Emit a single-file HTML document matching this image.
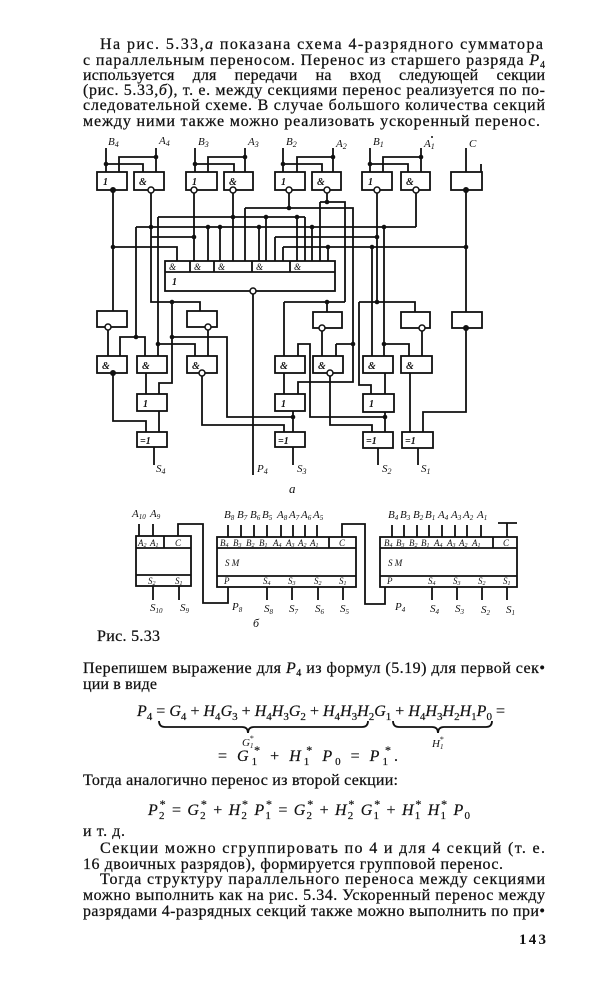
<!DOCTYPE html>
<html><head><meta charset="utf-8"><style>
html,body{margin:0;padding:0;background:#fff;}
svg{display:block;}
text{font-family:"Liberation Serif",serif;fill:#111;}
.t{font-size:16px;stroke:#111;stroke-width:0.25;}
.w{stroke:#111;stroke-width:1.8;fill:none;}
.bx{fill:#fff;stroke:#111;stroke-width:1.8;}
.g{font-size:10px;font-style:italic;font-weight:bold;}
.lb{font-size:11px;font-style:italic;}
.il{font-size:9px;font-style:italic;}
.i{font-style:italic;}
.f{stroke:#111;stroke-width:0.2;}
</style></head><body>
<svg width="614" height="1000" viewBox="0 0 614 1000" xmlns="http://www.w3.org/2000/svg">
<rect width="614" height="1000" fill="#fff"/>

<!-- top paragraph -->
<text class="t" x="100" y="49" textLength="443" lengthAdjust="spacing">На рис. 5.33,<tspan class="i">а</tspan> показана схема 4-разрядного сумматора</text>
<text class="t" x="83" y="65" textLength="462" lengthAdjust="spacing">с параллельным переносом. Перенос из старшего разряда <tspan class="i">P</tspan><tspan font-size="10" dy="3">4</tspan></text>
<text class="t" x="83" y="80" textLength="462" lengthAdjust="spacing" word-spacing="14">используется для передачи на вход следующей секции</text>
<text class="t" x="83" y="95" textLength="462" lengthAdjust="spacing">(рис. 5.33,<tspan class="i">б</tspan>), т. е. между секциями перенос реализуется по по-</text>
<text class="t" x="83" y="110" textLength="462" lengthAdjust="spacing">следовательной схеме. В случае большого количества секций</text>
<text class="t" x="83" y="126" textLength="457" lengthAdjust="spacing">между ними также можно реализовать ускоренный перенос.</text>
<circle cx="432" cy="137" r="1" fill="#111"/>

<!-- diagram a : wires -->
<path class="w" d="
M106 148V172 M106 164H143V172 M156 148V172 M156 157H119V172
M195 148V172 M195 164H234V172 M245 148V172 M245 157H208V172
M283 148V172 M283 164H322V172 M333 148V172 M333 157H297V172
M370 148V172 M370 164H408V172 M421 148V172 M421 157H383V172
M466 148V172 M481 164V172
M113 190V311
M151 190V302H200V311
M194 190V261
M233 190V261
M289 190V208
M327 190V202
M377 190V302
M416 190V227
M466 190V312
M320 202H345V302
M245 208H353V382H298V394
M158 217H305
M136 227H416
M151 237H194
M275 237H377
M113 247H177V261
M283 247H466
M208 227V261 M220 227V261 M245 208V261 M259 227V261 M266 217V261 M275 237V261 M283 247V261 M297 217V261 M305 217V261 M312 227V261 M320 202V261 M328 247V261
M253 291V475
M136 227V337H120V356 M136 337H145V356
M158 217V356 M158 344H195V356
M172 302V383H159V394 M172 337H227V417H293
M108 327V356
M208 327V356
M113 373V421H146V432
M146 373V394
M159 411V432
M154 447V465
M202 373V425H284V432
M284 302H345 M327 302V312 M284 302V356
M336 344H353 M336 344V356
M298 356V344H310V417H385
M322 328V356
M284 373V394
M293 411V432
M293 447V465
M330 373V425H372V432
M372 247V356
M384 227V356 M384 344H409V356
M359 302H415V312 M359 302V385H371V394
M422 328V356
M385 373V394
M385 412V432
M378 448V465
M410 373V432
M466 328V412H423V432
M418 448V465
"/>

<!-- dots -->
<g fill="#111">
<circle cx="106" cy="164" r="2.3"/><circle cx="156" cy="157" r="2.3"/><circle cx="195" cy="164" r="2.3"/><circle cx="245" cy="157" r="2.3"/>
<circle cx="283" cy="164" r="2.3"/><circle cx="333" cy="157" r="2.3"/><circle cx="370" cy="164" r="2.3"/><circle cx="421" cy="157" r="2.3"/>
<circle cx="113" cy="247" r="2.3"/><circle cx="151" cy="227" r="2.3"/><circle cx="194" cy="237" r="2.3"/><circle cx="233" cy="217" r="2.3"/>
<circle cx="289" cy="208" r="2.3"/><circle cx="327" cy="202" r="2.3"/><circle cx="377" cy="237" r="2.3"/><circle cx="466" cy="247" r="2.3"/>
<circle cx="208" cy="227" r="2.3"/><circle cx="220" cy="227" r="2.3"/><circle cx="259" cy="227" r="2.3"/><circle cx="266" cy="217" r="2.3"/>
<circle cx="297" cy="217" r="2.3"/><circle cx="312" cy="227" r="2.3"/><circle cx="328" cy="247" r="2.3"/><circle cx="372" cy="247" r="2.3"/>
<circle cx="384" cy="227" r="2.3"/><circle cx="136" cy="337" r="2.3"/><circle cx="158" cy="344" r="2.3"/><circle cx="172" cy="302" r="2.3"/>
<circle cx="172" cy="337" r="2.3"/><circle cx="327" cy="302" r="2.3"/><circle cx="353" cy="344" r="2.3"/><circle cx="384" cy="344" r="2.3"/>
<circle cx="377" cy="302" r="2.3"/><circle cx="385" cy="417" r="2.3"/><circle cx="293" cy="417" r="2.3"/>
</g>

<!-- boxes top row -->
<rect class="bx" x="97" y="172" width="30" height="18"/><text class="g" x="103" y="185">1</text>
<rect class="bx" x="134" y="172" width="30" height="18"/><text class="g" x="139" y="185">&amp;</text>
<rect class="bx" x="186" y="172" width="31" height="18"/><text class="g" x="192" y="185">1</text>
<rect class="bx" x="224" y="172" width="29" height="18"/><text class="g" x="229" y="185">&amp;</text>
<rect class="bx" x="275" y="172" width="30" height="18"/><text class="g" x="281" y="185">1</text>
<rect class="bx" x="312" y="172" width="29" height="18"/><text class="g" x="317" y="185">&amp;</text>
<rect class="bx" x="362" y="172" width="30" height="18"/><text class="g" x="368" y="185">1</text>
<rect class="bx" x="401" y="172" width="29" height="18"/><text class="g" x="406" y="185">&amp;</text>
<rect class="bx" x="451" y="172" width="31" height="18"/>

<!-- big box -->
<rect class="bx" x="165" y="261" width="170" height="30"/>
<path class="w" d="M165 272H335 M190 261V272 M214 261V272 M252 261V272 M290 261V272"/>
<text class="il" x="169" y="270">&amp;</text><text class="il" x="194" y="270">&amp;</text><text class="il" x="218" y="270">&amp;</text><text class="il" x="256" y="270">&amp;</text><text class="il" x="294" y="270">&amp;</text>
<text class="g" x="172" y="285">1</text>

<!-- lower boxes -->
<rect class="bx" x="97" y="311" width="30" height="16"/>
<rect class="bx" x="187" y="311" width="30" height="16"/>
<rect class="bx" x="313" y="312" width="29" height="16"/>
<rect class="bx" x="401" y="312" width="29" height="16"/>
<rect class="bx" x="452" y="312" width="30" height="16"/>

<rect class="bx" x="97" y="356" width="30" height="17"/><text class="g" x="102" y="369">&amp;</text>
<rect class="bx" x="137" y="356" width="30" height="17"/><text class="g" x="142" y="369">&amp;</text>
<rect class="bx" x="187" y="356" width="30" height="17"/><text class="g" x="192" y="369">&amp;</text>
<rect class="bx" x="275" y="356" width="30" height="17"/><text class="g" x="280" y="369">&amp;</text>
<rect class="bx" x="313" y="356" width="30" height="17"/><text class="g" x="318" y="369">&amp;</text>
<rect class="bx" x="363" y="356" width="30" height="17"/><text class="g" x="368" y="369">&amp;</text>
<rect class="bx" x="401" y="356" width="31" height="17"/><text class="g" x="406" y="369">&amp;</text>

<rect class="bx" x="137" y="394" width="30" height="17"/><text class="g" x="143" y="407">1</text>
<rect class="bx" x="275" y="394" width="30" height="17"/><text class="g" x="281" y="407">1</text>
<rect class="bx" x="363" y="394" width="31" height="18"/><text class="g" x="369" y="407">1</text>

<rect class="bx" x="137" y="432" width="30" height="15"/><text class="g" x="140" y="444">=1</text>
<rect class="bx" x="275" y="432" width="30" height="15"/><text class="g" x="278" y="444">=1</text>
<rect class="bx" x="363" y="432" width="30" height="16"/><text class="g" x="366" y="444">=1</text>
<rect class="bx" x="402" y="432" width="31" height="16"/><text class="g" x="405" y="444">=1</text>

<!-- output circles -->
<g fill="#fff" stroke="#111" stroke-width="1.5">
<circle cx="151" cy="190" r="3"/><circle cx="194" cy="190" r="3"/><circle cx="233" cy="190" r="3"/><circle cx="289" cy="190" r="3"/>
<circle cx="327" cy="190" r="3"/><circle cx="377" cy="190" r="3"/><circle cx="416" cy="190" r="3"/>
<circle cx="253" cy="291" r="3"/>
<circle cx="108" cy="327" r="3"/><circle cx="208" cy="327" r="3"/><circle cx="322" cy="328" r="3"/><circle cx="422" cy="328" r="3"/>
<circle cx="202" cy="373" r="3"/><circle cx="330" cy="373" r="3"/>
</g>
<g fill="#111">
<circle cx="113" cy="190" r="3"/><circle cx="466" cy="190" r="3"/><circle cx="466" cy="328" r="3"/><circle cx="113" cy="373" r="3"/>
</g>

<!-- diagram a labels -->
<text class="lb" x="108" y="145">B<tspan font-size="8" dy="2">4</tspan></text>
<text class="lb" x="159" y="144">A<tspan font-size="8" dy="2">4</tspan></text>
<text class="lb" x="198" y="145">B<tspan font-size="8" dy="2">3</tspan></text>
<text class="lb" x="248" y="145">A<tspan font-size="8" dy="2">3</tspan></text>
<text class="lb" x="286" y="145">B<tspan font-size="8" dy="2">2</tspan></text>
<text class="lb" x="336" y="147">A<tspan font-size="8" dy="2">2</tspan></text>
<text class="lb" x="373" y="145">B<tspan font-size="8" dy="2">1</tspan></text>
<text class="lb" x="424" y="147">A<tspan font-size="8" dy="2">1</tspan></text>
<text class="lb" x="469" y="147">C</text>
<text class="lb" x="156" y="472">S<tspan font-size="8" dy="2">4</tspan></text>
<text class="lb" x="257" y="472">P<tspan font-size="8" dy="2">4</tspan></text>
<text class="lb" x="297" y="472">S<tspan font-size="8" dy="2">3</tspan></text>
<text class="lb" x="382" y="472">S<tspan font-size="8" dy="2">2</tspan></text>
<text class="lb" x="421" y="472">S<tspan font-size="8" dy="2">1</tspan></text>
<text x="289" y="493" font-size="13" font-style="italic">a</text>

<!-- diagram b -->
<path class="w" d="
M139 524V536 M153 524V536 M178 536V524H203V603H228V587
M153 586V600 M179 586V600
M228 525V537 M241 525V537 M254 525V537 M267 525V537 M281 525V537 M293 525V537 M305 525V537 M317 525V537
M342 537V524H365V604H385V587
M267 587V600 M292 587V600 M318 587V600 M343 587V600
M392 525V537 M404 525V537 M417 525V537 M429 525V537 M442 525V537 M455 525V537 M467 525V537 M481 525V537
M507 523V537 M498 523H517
M432 587V600 M457 587V600 M482 587V600 M507 587V600"/>
<rect class="bx" x="136" y="536" width="55" height="50"/>
<path class="w" d="M136 548H191 M136 575H191 M164 536V548"/>
<rect class="bx" x="217" y="537" width="139" height="50"/>
<path class="w" d="M217 548H356 M217 576H356 M329 537V548"/>
<rect class="bx" x="380" y="537" width="137" height="50"/>
<path class="w" d="M380 548H517 M380 576H517 M493 537V548"/>

<text class="lb" x="132" y="517">A<tspan font-size="7" dy="2">10</tspan></text>
<text class="lb" x="150" y="517">A<tspan font-size="7" dy="2">9</tspan></text>
<text class="lb" x="224" y="518">B<tspan font-size="7" dy="2">8</tspan></text>
<text class="lb" x="237" y="518">B<tspan font-size="7" dy="2">7</tspan></text>
<text class="lb" x="250" y="518">B<tspan font-size="7" dy="2">6</tspan></text>
<text class="lb" x="262" y="518">B<tspan font-size="7" dy="2">5</tspan></text>
<text class="lb" x="277" y="518">A<tspan font-size="7" dy="2">8</tspan></text>
<text class="lb" x="289" y="518">A<tspan font-size="7" dy="2">7</tspan></text>
<text class="lb" x="301" y="518">A<tspan font-size="7" dy="2">6</tspan></text>
<text class="lb" x="313" y="518">A<tspan font-size="7" dy="2">5</tspan></text>
<text class="lb" x="388" y="518">B<tspan font-size="7" dy="2">4</tspan></text>
<text class="lb" x="400" y="518">B<tspan font-size="7" dy="2">3</tspan></text>
<text class="lb" x="413" y="518">B<tspan font-size="7" dy="2">2</tspan></text>
<text class="lb" x="425" y="518">B<tspan font-size="7" dy="2">1</tspan></text>
<text class="lb" x="438" y="518">A<tspan font-size="7" dy="2">4</tspan></text>
<text class="lb" x="451" y="518">A<tspan font-size="7" dy="2">3</tspan></text>
<text class="lb" x="463" y="518">A<tspan font-size="7" dy="2">2</tspan></text>
<text class="lb" x="477" y="518">A<tspan font-size="7" dy="2">1</tspan></text>

<g>
<text class="il" x="138" y="546">A<tspan font-size="6" dy="1">2</tspan></text>
<text class="il" x="150" y="546">A<tspan font-size="6" dy="1">1</tspan></text>
<text class="il" x="175" y="546">C</text>
<text class="il" x="220" y="546">B<tspan font-size="6" dy="1">4</tspan></text>
<text class="il" x="233" y="546">B<tspan font-size="6" dy="1">3</tspan></text>
<text class="il" x="246" y="546">B<tspan font-size="6" dy="1">2</tspan></text>
<text class="il" x="259" y="546">B<tspan font-size="6" dy="1">1</tspan></text>
<text class="il" x="273" y="546">A<tspan font-size="6" dy="1">4</tspan></text>
<text class="il" x="286" y="546">A<tspan font-size="6" dy="1">3</tspan></text>
<text class="il" x="298" y="546">A<tspan font-size="6" dy="1">2</tspan></text>
<text class="il" x="310" y="546">A<tspan font-size="6" dy="1">1</tspan></text>
<text class="il" x="339" y="546">C</text>
<text class="il" x="384" y="546">B<tspan font-size="6" dy="1">4</tspan></text>
<text class="il" x="396" y="546">B<tspan font-size="6" dy="1">3</tspan></text>
<text class="il" x="409" y="546">B<tspan font-size="6" dy="1">2</tspan></text>
<text class="il" x="421" y="546">B<tspan font-size="6" dy="1">1</tspan></text>
<text class="il" x="434" y="546">A<tspan font-size="6" dy="1">4</tspan></text>
<text class="il" x="447" y="546">A<tspan font-size="6" dy="1">3</tspan></text>
<text class="il" x="459" y="546">A<tspan font-size="6" dy="1">2</tspan></text>
<text class="il" x="472" y="546">A<tspan font-size="6" dy="1">1</tspan></text>
<text class="il" x="503" y="546">C</text>
<text class="il" x="225" y="566" font-size="10">S M</text>
<text class="il" x="388" y="566" font-size="10">S M</text>
<text class="il" x="224" y="584">P</text>
<text class="il" x="387" y="584">P</text>
<text class="il" x="148" y="584">S<tspan font-size="6" dy="1">2</tspan></text>
<text class="il" x="175" y="584">S<tspan font-size="6" dy="1">1</tspan></text>
<text class="il" x="263" y="584">S<tspan font-size="6" dy="1">4</tspan></text>
<text class="il" x="288" y="584">S<tspan font-size="6" dy="1">3</tspan></text>
<text class="il" x="314" y="584">S<tspan font-size="6" dy="1">2</tspan></text>
<text class="il" x="339" y="584">S<tspan font-size="6" dy="1">1</tspan></text>
<text class="il" x="428" y="584">S<tspan font-size="6" dy="1">4</tspan></text>
<text class="il" x="453" y="584">S<tspan font-size="6" dy="1">3</tspan></text>
<text class="il" x="478" y="584">S<tspan font-size="6" dy="1">2</tspan></text>
<text class="il" x="503" y="584">S<tspan font-size="6" dy="1">1</tspan></text>
</g>

<text class="lb" x="150" y="611">S<tspan font-size="7" dy="2">10</tspan></text>
<text class="lb" x="180" y="611">S<tspan font-size="7" dy="2">9</tspan></text>
<text class="lb" x="232" y="610">P<tspan font-size="7" dy="2">8</tspan></text>
<text class="lb" x="264" y="612">S<tspan font-size="7" dy="2">8</tspan></text>
<text class="lb" x="289" y="612">S<tspan font-size="7" dy="2">7</tspan></text>
<text class="lb" x="315" y="612">S<tspan font-size="7" dy="2">6</tspan></text>
<text class="lb" x="340" y="612">S<tspan font-size="7" dy="2">5</tspan></text>
<text class="lb" x="395" y="610">P<tspan font-size="7" dy="2">4</tspan></text>
<text class="lb" x="430" y="612">S<tspan font-size="7" dy="2">4</tspan></text>
<text class="lb" x="455" y="612">S<tspan font-size="7" dy="2">3</tspan></text>
<text class="lb" x="481" y="613">S<tspan font-size="7" dy="2">2</tspan></text>
<text class="lb" x="506" y="613">S<tspan font-size="7" dy="2">1</tspan></text>
<text x="253" y="627" font-size="12" font-style="italic">б</text>

<text class="t" x="97" y="641" textLength="63" lengthAdjust="spacing">Рис. 5.33</text>

<!-- lower text -->
<text class="t" x="83" y="673" textLength="462" lengthAdjust="spacing">Перепишем выражение для <tspan class="i">P</tspan><tspan font-size="10" dy="3">4</tspan><tspan dy="-3"> из формул (5.19) для первой сек•</tspan></text>
<text class="t" x="83" y="689" textLength="74" lengthAdjust="spacing">ции в виде</text>

<text class="f" x="137" y="716" font-size="16" textLength="368" lengthAdjust="spacing"><tspan class="i">P</tspan><tspan font-size="11" dy="4">4</tspan><tspan dy="-4"> = </tspan><tspan class="i">G</tspan><tspan font-size="11" dy="4">4</tspan><tspan dy="-4"> + </tspan><tspan class="i">H</tspan><tspan font-size="11" dy="4">4</tspan><tspan class="i" dy="-4">G</tspan><tspan font-size="11" dy="4">3</tspan><tspan dy="-4"> + </tspan><tspan class="i">H</tspan><tspan font-size="11" dy="4">4</tspan><tspan class="i" dy="-4">H</tspan><tspan font-size="11" dy="4">3</tspan><tspan class="i" dy="-4">G</tspan><tspan font-size="11" dy="4">2</tspan><tspan dy="-4"> + </tspan><tspan class="i">H</tspan><tspan font-size="11" dy="4">4</tspan><tspan class="i" dy="-4">H</tspan><tspan font-size="11" dy="4">3</tspan><tspan class="i" dy="-4">H</tspan><tspan font-size="11" dy="4">2</tspan><tspan class="i" dy="-4">G</tspan><tspan font-size="11" dy="4">1</tspan><tspan dy="-4"> + </tspan><tspan class="i">H</tspan><tspan font-size="11" dy="4">4</tspan><tspan class="i" dy="-4">H</tspan><tspan font-size="11" dy="4">3</tspan><tspan class="i" dy="-4">H</tspan><tspan font-size="11" dy="4">2</tspan><tspan class="i" dy="-4">H</tspan><tspan font-size="11" dy="4">1</tspan><tspan class="i" dy="-4">P</tspan><tspan font-size="11" dy="4">0</tspan><tspan dy="-4"> =</tspan></text>
<path class="w" stroke-width="1.4" d="M159 721Q159 727 165 727H242Q248 727 248 733Q248 727 254 727H362Q368 727 368 721 M393 721Q393 727 399 727H432Q438 727 438 733Q438 727 444 727H486Q492 727 492 721"/>
<text x="242" y="746" font-size="11" class="i">G<tspan font-size="7" dy="2">1</tspan><tspan font-size="8" dx="-4" dy="-7">*</tspan></text>
<text x="432" y="747" font-size="11" class="i">H<tspan font-size="7" dy="2">1</tspan><tspan font-size="8" dx="-4" dy="-7">*</tspan></text>

<text class="f" x="218" y="761" font-size="16" textLength="180" lengthAdjust="spacing">= <tspan class="i">G</tspan><tspan font-size="11" dy="4">1</tspan><tspan font-size="12" dx="-6" dy="-11">*</tspan><tspan dy="7"> + </tspan><tspan class="i">H</tspan><tspan font-size="11" dy="4">1</tspan><tspan font-size="12" dx="-6" dy="-11">*</tspan><tspan dy="7"> </tspan><tspan class="i">P</tspan><tspan font-size="11" dy="4">0</tspan><tspan dy="-4"> = </tspan><tspan class="i">P</tspan><tspan font-size="11" dy="4">1</tspan><tspan font-size="12" dx="-6" dy="-11">*</tspan><tspan dy="7">.</tspan></text>

<text class="t" x="83" y="785" textLength="315" lengthAdjust="spacing">Тогда аналогично перенос из второй секции:</text>

<text class="f" x="148" y="815" font-size="16" textLength="322" lengthAdjust="spacing"><tspan class="i">P</tspan><tspan font-size="11" dy="4">2</tspan><tspan font-size="12" dx="-6" dy="-11">*</tspan><tspan dy="7"> = </tspan><tspan class="i">G</tspan><tspan font-size="11" dy="4">2</tspan><tspan font-size="12" dx="-6" dy="-11">*</tspan><tspan dy="7"> + </tspan><tspan class="i">H</tspan><tspan font-size="11" dy="4">2</tspan><tspan font-size="12" dx="-6" dy="-11">*</tspan><tspan dy="7"> </tspan><tspan class="i">P</tspan><tspan font-size="11" dy="4">1</tspan><tspan font-size="12" dx="-6" dy="-11">*</tspan><tspan dy="7"> = </tspan><tspan class="i">G</tspan><tspan font-size="11" dy="4">2</tspan><tspan font-size="12" dx="-6" dy="-11">*</tspan><tspan dy="7"> + </tspan><tspan class="i">H</tspan><tspan font-size="11" dy="4">2</tspan><tspan font-size="12" dx="-6" dy="-11">*</tspan><tspan dy="7"> </tspan><tspan class="i">G</tspan><tspan font-size="11" dy="4">1</tspan><tspan font-size="12" dx="-6" dy="-11">*</tspan><tspan dy="7"> + </tspan><tspan class="i">H</tspan><tspan font-size="11" dy="4">1</tspan><tspan font-size="12" dx="-6" dy="-11">*</tspan><tspan dy="7"> </tspan><tspan class="i">H</tspan><tspan font-size="11" dy="4">1</tspan><tspan font-size="12" dx="-6" dy="-11">*</tspan><tspan dy="7"> </tspan><tspan class="i">P</tspan><tspan font-size="11" dy="4">0</tspan></text>

<text class="t" x="83" y="836" textLength="42" lengthAdjust="spacing">и т. д.</text>
<text class="t" x="100" y="853" textLength="445" lengthAdjust="spacing">Секции можно сгруппировать по 4 и для 4 секций (т. е.</text>
<text class="t" x="83" y="869" textLength="420" lengthAdjust="spacing">16 двоичных разрядов), формируется групповой перенос.</text>
<text class="t" x="100" y="884" textLength="445" lengthAdjust="spacing">Тогда структуру параллельного переноса между секциями</text>
<text class="t" x="83" y="900" textLength="462" lengthAdjust="spacing">можно выполнить как на рис. 5.34. Ускоренный перенос между</text>
<text class="t" x="83" y="916" textLength="462" lengthAdjust="spacing">разрядами 4-разрядных секций также можно выполнить по при•</text>

<text x="519" y="944" font-size="15" font-weight="bold" textLength="27" lengthAdjust="spacing">143</text>
</svg>
</body></html>
